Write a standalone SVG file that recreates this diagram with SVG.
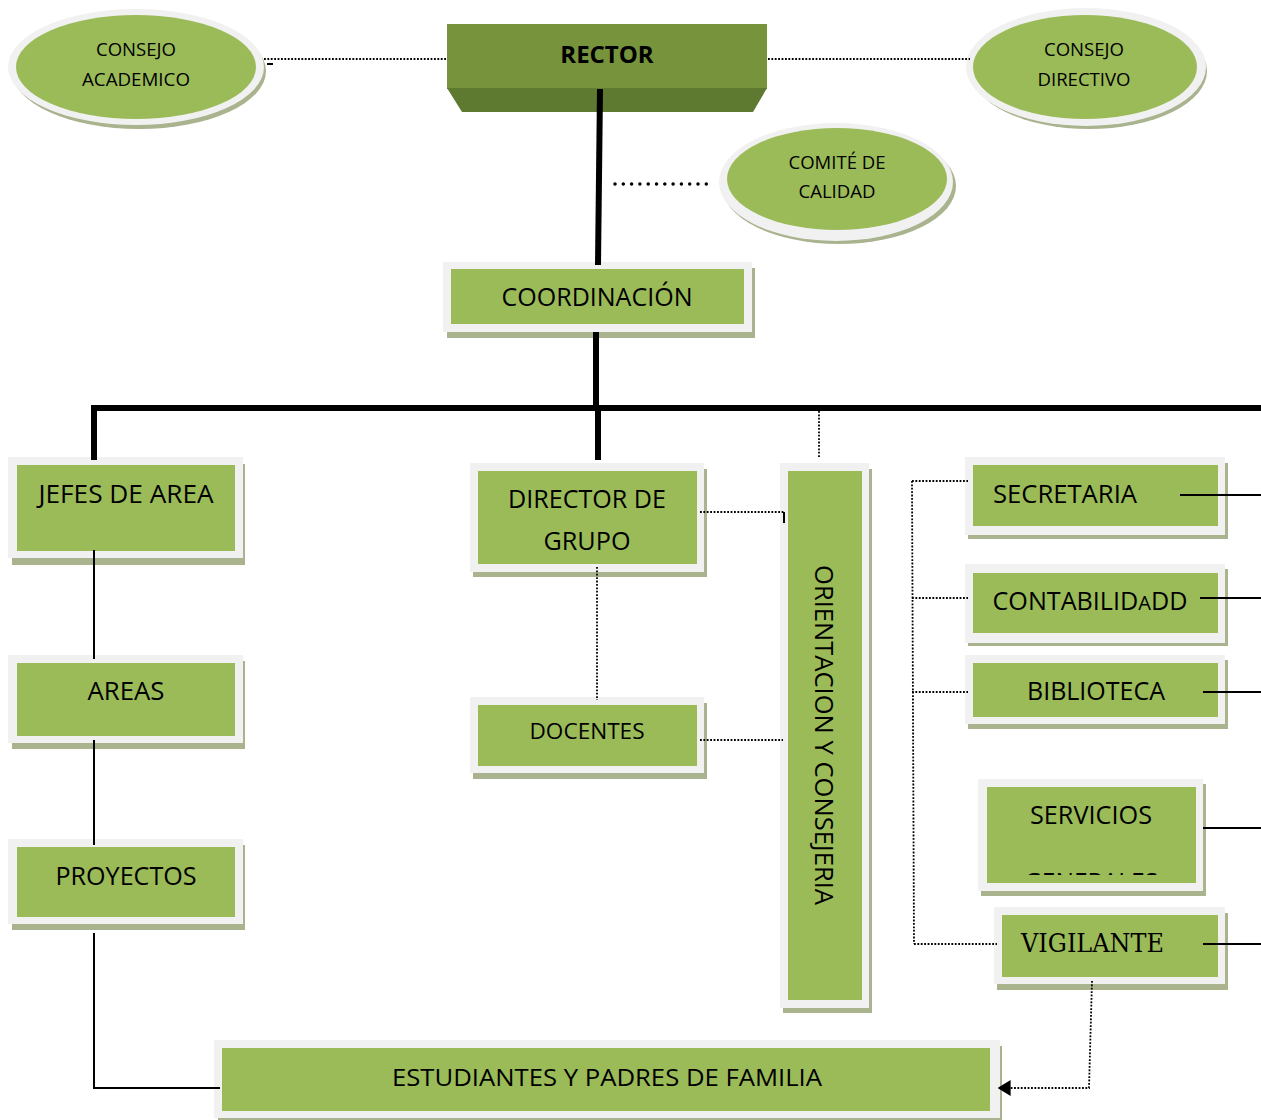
<svg xmlns="http://www.w3.org/2000/svg" width="1261" height="1120" viewBox="0 0 1261 1120">
<style>
.t{font-family:"Open Sans","Noto Sans",sans-serif;fill:#000;text-anchor:middle}
.s{fill:#A9B38E}
.b{fill:#F1F1F1}
.g{fill:#9BBB59}
.thick{stroke:#000;stroke-width:6;fill:none}
.thin{stroke:#000;stroke-width:2;fill:none}
.dot{stroke:#000;stroke-width:1.8;stroke-dasharray:1.8 1.6;fill:none}
</style>
<defs>
<marker id="arr" viewBox="0 0 10 10" refX="2" refY="5" markerWidth="13" markerHeight="16" markerUnits="userSpaceOnUse" orient="auto" preserveAspectRatio="none">
<path d="M0,0 L10,5 L0,10 Z" fill="#000"/>
</marker>
<clipPath id="clipServ"><rect x="987" y="787" width="209" height="88"/></clipPath>
</defs>

<g id="consejo-academico">
<ellipse class="s" cx="139" cy="71" rx="127" ry="58"/>
<ellipse class="b" cx="136" cy="67" rx="128" ry="58"/>
<ellipse class="g" cx="136" cy="67" rx="120" ry="52"/>
<text class="t" x="136" y="56" font-size="18" textLength="80" lengthAdjust="spacingAndGlyphs">CONSEJO</text>
<text class="t" x="136" y="86" font-size="18" textLength="108" lengthAdjust="spacingAndGlyphs">ACADEMICO</text>
</g>

<g id="rector">
<rect x="447" y="24" width="320" height="65" fill="#77933C"/>
<polygon points="447,88 767,88 753,112 462,112" fill="#5E7A31"/>
<text class="t" x="607" y="63" font-size="24" font-weight="bold">RECTOR</text>
</g>

<g id="consejo-directivo">
<ellipse class="s" cx="1089" cy="71" rx="118" ry="58"/>
<ellipse class="b" cx="1086" cy="67" rx="120" ry="59"/>
<ellipse class="g" cx="1085" cy="67" rx="112" ry="52"/>
<text class="t" x="1084" y="56" font-size="18" textLength="80" lengthAdjust="spacingAndGlyphs">CONSEJO</text>
<text class="t" x="1084" y="86" font-size="18" textLength="93" lengthAdjust="spacingAndGlyphs">DIRECTIVO</text>
</g>

<g id="comite-calidad">
<ellipse class="s" cx="839" cy="186" rx="117" ry="58"/>
<ellipse class="b" cx="836" cy="182" rx="117" ry="59"/>
<ellipse class="g" cx="837" cy="179" rx="110" ry="51"/>
<text class="t" x="837" y="169" font-size="18" textLength="97" lengthAdjust="spacingAndGlyphs">COMITÉ DE</text>
<text class="t" x="837" y="198" font-size="18" textLength="77" lengthAdjust="spacingAndGlyphs">CALIDAD</text>
</g>

<g id="coordinacion">
<rect class="s" x="447" y="268" width="308" height="70"/>
<rect class="b" x="443" y="262" width="309" height="70"/>
<rect class="g" x="451" y="269" width="293" height="55"/>
<text class="t" x="597" y="306" font-size="25" textLength="191" lengthAdjust="spacingAndGlyphs">COORDINACIÓN</text>
</g>

<g id="jefes-area">
<rect class="s" x="12" y="464" width="233" height="101"/>
<rect class="b" x="8" y="457" width="235" height="101"/>
<rect class="g" x="17" y="465" width="218" height="86"/>
<text class="t" x="126" y="503" font-size="25" textLength="175" lengthAdjust="spacingAndGlyphs">JEFES DE AREA</text>
</g>

<g id="areas">
<rect class="s" x="12" y="661" width="233" height="88"/>
<rect class="b" x="8" y="655" width="235" height="88"/>
<rect class="g" x="17" y="663" width="218" height="73"/>
<text class="t" x="126" y="700" font-size="25" textLength="77" lengthAdjust="spacingAndGlyphs">AREAS</text>
</g>

<g id="proyectos">
<rect class="s" x="12" y="845" width="233" height="85"/>
<rect class="b" x="8" y="839" width="235" height="85"/>
<rect class="g" x="17" y="847" width="218" height="70"/>
<text class="t" x="126" y="885" font-size="25" textLength="141" lengthAdjust="spacingAndGlyphs">PROYECTOS</text>
</g>

<g id="director-grupo">
<rect class="s" x="473" y="469" width="234" height="108"/>
<rect class="b" x="470" y="463" width="234" height="109"/>
<rect class="g" x="478" y="471" width="219" height="93"/>
<text class="t" x="587" y="508" font-size="25" textLength="158" lengthAdjust="spacingAndGlyphs">DIRECTOR DE</text>
<text class="t" x="587" y="550" font-size="25" textLength="87" lengthAdjust="spacingAndGlyphs">GRUPO</text>
</g>

<g id="docentes">
<rect class="s" x="473" y="703" width="234" height="76"/>
<rect class="b" x="470" y="697" width="234" height="76"/>
<rect class="g" x="478" y="705" width="219" height="61"/>
<text class="t" x="587" y="739" font-size="21" textLength="115" lengthAdjust="spacingAndGlyphs">DOCENTES</text>
</g>

<g id="orientacion">
<rect class="s" x="783" y="469" width="89" height="544"/>
<rect class="b" x="780" y="463" width="89" height="545"/>
<rect class="g" x="788" y="471" width="74" height="529"/>
<text class="t" transform="translate(824,735) rotate(90)" x="0" y="9" font-size="25" textLength="340" lengthAdjust="spacingAndGlyphs">ORIENTACION Y CONSEJERIA</text>
</g>

<g id="secretaria">
<rect class="s" x="968" y="463" width="260" height="76"/>
<rect class="b" x="965" y="457" width="260" height="78"/>
<rect class="g" x="973" y="465" width="245" height="61"/>
<text class="t" x="1065" y="503" font-size="25" textLength="144" lengthAdjust="spacingAndGlyphs">SECRETARIA</text>
</g>

<g id="contabilidad">
<rect class="s" x="968" y="569" width="260" height="77"/>
<rect class="b" x="965" y="564" width="260" height="79"/>
<rect class="g" x="973" y="573" width="245" height="60"/>
<text class="t" x="1090" y="610" font-size="25" textLength="195" lengthAdjust="spacingAndGlyphs">CONTABILID<tspan font-size="20">A</tspan>DD</text>
</g>

<g id="biblioteca">
<rect class="s" x="968" y="660" width="260" height="69"/>
<rect class="b" x="965" y="655" width="260" height="69"/>
<rect class="g" x="973" y="663" width="245" height="54"/>
<text class="t" x="1096" y="700" font-size="25" textLength="138" lengthAdjust="spacingAndGlyphs">BIBLIOTECA</text>
</g>

<g id="servicios-generales">
<rect class="s" x="981" y="784" width="225" height="112"/>
<rect class="b" x="978" y="779" width="225" height="112"/>
<rect class="g" x="987" y="787" width="209" height="96"/>
<text class="t" x="1091" y="824" font-size="25" textLength="122" lengthAdjust="spacingAndGlyphs">SERVICIOS</text>
<text class="t" x="1091" y="891" font-size="25" clip-path="url(#clipServ)" textLength="134" lengthAdjust="spacingAndGlyphs">GENERALES</text>
</g>

<g id="vigilante">
<rect class="s" x="997" y="913" width="231" height="77"/>
<rect class="b" x="994" y="907" width="231" height="77"/>
<rect class="g" x="1002" y="915" width="216" height="62"/>
<text x="1021" y="952" font-family="'DejaVu Serif','Liberation Serif',serif" font-size="26" textLength="143" lengthAdjust="spacingAndGlyphs">VIGILANTE</text>
</g>

<g id="estudiantes">
<rect class="s" x="218" y="1046" width="784" height="74"/>
<rect class="b" x="214" y="1040" width="786" height="78"/>
<rect class="g" x="222" y="1048" width="768" height="63"/>
<text class="t" x="607" y="1086" font-size="24" textLength="430" lengthAdjust="spacingAndGlyphs">ESTUDIANTES Y PADRES DE FAMILIA</text>
</g>

<g id="connectors">
<line class="dot" x1="264" y1="59" x2="446" y2="59"/>
<line x1="267" y1="64" x2="273" y2="64" stroke="#000" stroke-width="2"/>
<line class="dot" x1="768" y1="59" x2="970" y2="59"/>
<polyline class="thick" points="600,89 598,265"/>
<line x1="615" y1="184" x2="712" y2="184" stroke="#000" stroke-width="3.5" stroke-linecap="round" stroke-dasharray="0 8.3"/>
<line class="thick" x1="596" y1="332" x2="596" y2="408"/>
<line class="thick" x1="91" y1="408" x2="1261" y2="408"/>
<line class="thick" x1="94" y1="405" x2="94" y2="460"/>
<line class="thick" x1="598" y1="408" x2="598" y2="460"/>
<line class="dot" x1="819" y1="411" x2="819" y2="458"/>
<line class="thin" x1="94" y1="550" x2="94" y2="659"/>
<line class="thin" x1="94" y1="740" x2="94" y2="845"/>
<polyline class="thin" points="94,933 94,1088 220,1088"/>
<polyline class="dot" points="700,512 784,512"/>
<line x1="784" y1="512" x2="784" y2="523" stroke="#000" stroke-width="2"/>
<line class="dot" x1="597" y1="567" x2="597" y2="700"/>
<line class="dot" x1="700" y1="740" x2="783" y2="740"/>
<line class="dot" x1="912" y1="481" x2="914" y2="944"/>
<line class="dot" x1="912" y1="481" x2="968" y2="481"/>
<line class="dot" x1="912" y1="598" x2="968" y2="598"/>
<line class="dot" x1="912" y1="692" x2="968" y2="692"/>
<line class="dot" x1="914" y1="944" x2="997" y2="944"/>
<line class="thin" x1="1180" y1="495" x2="1261" y2="495"/>
<line class="thin" x1="1200" y1="598" x2="1261" y2="598"/>
<line class="thin" x1="1203" y1="692" x2="1261" y2="692"/>
<line class="thin" x1="1203" y1="828" x2="1261" y2="828"/>
<line class="thin" x1="1203" y1="944" x2="1261" y2="944"/>
<polyline class="dot" points="1092,981 1089,1088 1008,1088" marker-end="url(#arr)"/>
</g>
</svg>
